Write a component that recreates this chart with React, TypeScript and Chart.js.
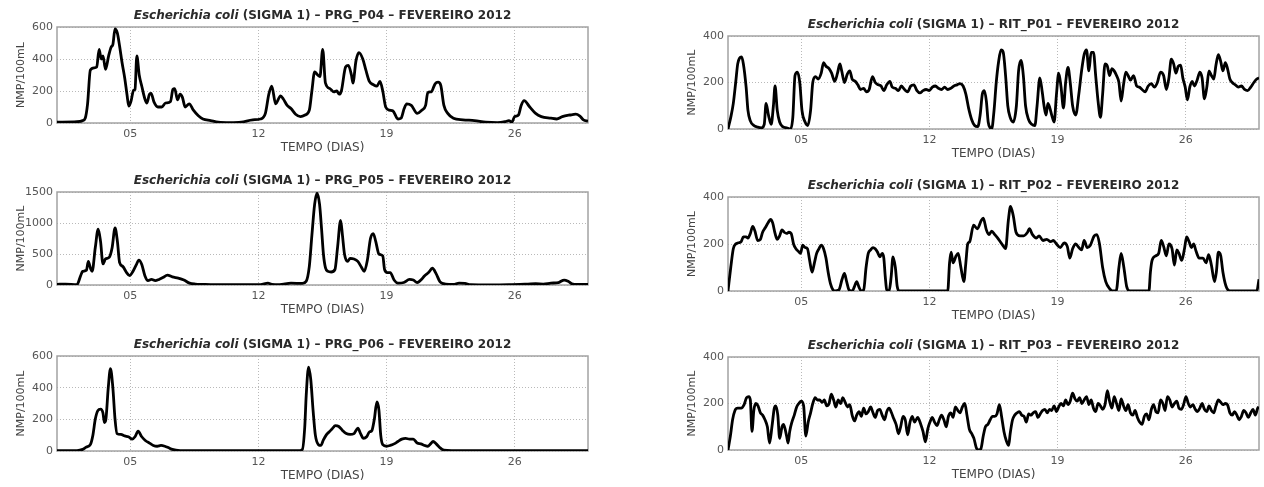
import React, { useEffect, useRef } from 'react';
import { Chart, registerables } from 'chart.js';

Chart.register(...registerables);

// ---------- shared labels ----------
const TICK_DAYS = [5, 12, 19, 26];
const X_MIN = 1;
const X_MAX = 30;
const Y_LABEL = 'NMP/100mL';
const X_LABEL = 'TEMPO (DIAS)';
const SPECIES = 'Escherichia coli';
const TITLE_REST = ' (SIGMA 1) – ';
const MONTH = ' – FEVEREIRO 2012';

// ---------- PRG_P04 ----------
const p04Days = [1.00,2.09,2.40,2.54,2.67,2.82,3.03,3.17,3.30,3.42,3.51,3.65,3.82,3.96,4.05,4.17,4.30,4.42,4.55,4.70,4.82,4.92,5.05,5.18,5.26,5.36,5.49,5.63,5.80,5.91,6.05,6.14,6.30,6.51,6.72,6.93,7.20,7.33,7.43,7.58,7.72,7.85,8.00,8.22,8.45,8.72,8.97,9.39,9.81,10.44,11.06,11.69,12.11,12.38,12.57,12.73,12.94,13.21,13.36,13.57,13.78,14.03,14.30,14.55,14.78,14.92,15.07,15.24,15.36,15.51,15.66,15.91,16.12,16.28,16.41,16.53,16.76,16.91,17.08,17.16,17.33,17.49,17.70,17.87,18.06,18.27,18.47,18.64,18.79,18.95,19.16,19.35,19.62,19.79,19.96,20.10,20.35,20.67,20.92,21.13,21.25,21.44,21.65,21.81,21.96,22.13,22.34,22.65,23.17,23.80,24.42,25.05,25.47,25.68,25.84,25.99,26.20,26.35,26.51,26.82,27.14,27.45,27.97,28.29,28.60,29.02,29.33,29.54,29.75,30.00];
const p04Vals = [5,8,15,30,120,330,345,350,460,400,420,335,420,475,490,588,560,480,380,280,180,105,140,205,210,420,300,230,150,125,180,185,130,100,100,125,135,210,215,145,180,160,100,120,80,45,25,15,5,2,5,20,25,60,180,230,120,170,150,110,90,55,40,50,80,200,320,300,290,460,250,215,195,200,180,200,350,360,300,250,390,440,400,330,260,240,230,260,200,100,80,75,25,30,90,120,110,60,80,110,190,195,245,255,235,110,60,30,20,15,5,2,8,15,5,40,50,110,140,100,60,40,30,25,40,50,55,45,20,12];

// ---------- PRG_P05 ----------
const p05Days = [1.00,1.46,2.09,2.29,2.40,2.61,2.71,2.84,2.92,3.09,3.25,3.38,3.51,3.65,3.86,4.01,4.17,4.30,4.42,4.59,4.80,4.97,5.11,5.32,5.47,5.63,5.80,5.97,6.16,6.37,6.57,6.78,7.03,7.30,7.62,7.93,8.24,8.56,8.97,9.60,10.44,11.48,12.11,12.52,12.73,13.15,13.78,14.40,14.61,14.78,14.92,15.07,15.20,15.34,15.45,15.55,15.66,15.80,15.97,16.18,16.32,16.49,16.59,16.70,16.87,17.01,17.22,17.43,17.64,17.78,17.95,18.12,18.27,18.41,18.58,18.79,18.89,19.04,19.20,19.41,19.62,19.94,20.25,20.46,20.67,20.87,21.08,21.29,21.50,21.71,21.92,22.23,22.65,22.96,23.28,23.59,24.63,25.68,26.72,27.14,27.56,27.97,28.39,28.70,28.91,29.12,29.43,30.00];
const p05Vals = [10,15,5,150,220,240,380,260,220,600,900,700,340,420,450,600,920,700,360,300,200,150,200,320,400,330,150,70,90,70,90,120,160,130,110,80,30,15,10,5,5,5,5,30,10,5,30,25,60,300,800,1300,1480,1300,900,500,280,220,210,250,600,1040,800,500,380,430,420,380,280,220,400,750,830,700,500,470,250,200,200,80,30,40,90,80,40,80,150,200,270,180,50,15,10,30,25,5,2,5,15,20,15,30,40,80,60,20,10,10];

// ---------- PRG_P06 ----------
const p06Days = [1.00,2.09,2.40,2.61,2.82,2.96,3.09,3.23,3.38,3.51,3.59,3.67,3.80,3.92,4.05,4.17,4.28,4.49,4.70,4.90,5.11,5.26,5.43,5.63,5.84,6.05,6.26,6.47,6.68,6.89,7.10,7.30,7.72,8.35,10.44,12.52,14.19,14.40,14.53,14.61,14.74,14.86,14.99,15.11,15.28,15.41,15.55,15.70,15.86,16.03,16.20,16.39,16.59,16.80,17.01,17.22,17.43,17.58,17.74,17.91,18.06,18.20,18.33,18.47,18.58,18.68,18.79,19.00,19.20,19.41,19.62,19.83,20.04,20.25,20.46,20.67,20.87,21.08,21.25,21.40,21.54,21.71,21.92,22.13,22.55,30.00];
const p06Vals = [3,3,10,25,40,100,200,255,265,240,180,200,400,520,400,200,110,105,95,90,75,90,125,90,65,50,35,30,35,30,20,10,3,2,2,2,2,10,150,350,530,450,250,100,40,35,70,100,120,140,160,155,130,110,105,110,145,110,80,90,120,130,200,310,260,100,40,30,35,45,60,75,80,75,75,50,45,35,30,45,60,45,20,5,2,2];

// ---------- RIT_P01 ----------
const r01Days = [1.00,1.15,1.29,1.42,1.53,1.63,1.74,1.84,1.99,2.09,2.22,2.41,2.62,2.83,2.98,3.08,3.21,3.36,3.48,3.57,3.69,3.82,3.99,4.20,4.41,4.54,4.66,4.79,4.92,5.04,5.21,5.36,5.51,5.63,5.78,5.93,6.09,6.22,6.35,6.52,6.66,6.83,6.98,7.11,7.21,7.36,7.51,7.65,7.78,7.95,8.09,8.24,8.41,8.56,8.71,8.89,9.04,9.21,9.36,9.51,9.67,9.84,9.97,10.14,10.31,10.47,10.64,10.81,10.98,11.15,11.32,11.48,11.65,11.82,11.99,12.16,12.33,12.49,12.66,12.83,13.00,13.17,13.34,13.51,13.67,13.84,13.99,14.14,14.31,14.47,14.64,14.77,14.89,15.00,15.11,15.21,15.32,15.40,15.53,15.65,15.78,15.91,16.03,16.16,16.28,16.41,16.58,16.75,16.87,17.00,17.13,17.25,17.42,17.59,17.76,17.88,18.03,18.16,18.26,18.37,18.47,18.58,18.68,18.81,18.94,19.06,19.19,19.32,19.44,19.57,19.69,19.82,19.99,20.16,20.31,20.45,20.58,20.71,20.83,20.96,21.08,21.21,21.34,21.46,21.59,21.72,21.84,21.97,22.09,22.22,22.35,22.47,22.60,22.73,22.85,22.98,23.15,23.32,23.46,23.61,23.78,23.95,24.12,24.28,24.45,24.62,24.79,24.94,25.08,25.21,25.34,25.46,25.59,25.72,25.84,25.97,26.09,26.22,26.35,26.47,26.62,26.77,26.89,27.02,27.15,27.27,27.40,27.53,27.65,27.78,27.91,28.03,28.16,28.28,28.41,28.54,28.71,28.87,29.04,29.21,29.38,29.55,29.72,29.88,30.00];
const r01Vals = [0,50,110,200,280,305,310,280,180,80,35,15,8,5,20,110,60,20,100,185,80,30,10,5,0,50,230,245,200,80,30,15,80,200,225,215,240,285,270,260,240,205,240,280,250,200,235,250,215,205,190,170,175,160,170,225,200,190,185,165,190,205,180,175,165,185,170,160,185,190,165,155,165,170,165,180,185,175,170,180,170,175,185,190,195,185,150,90,40,15,10,60,150,165,120,30,5,0,80,200,290,340,330,230,100,50,30,100,250,295,230,100,40,20,15,100,220,160,100,60,110,90,60,30,150,240,180,90,200,265,200,100,60,150,250,320,340,250,330,330,230,120,50,150,280,270,230,260,250,230,200,120,190,245,230,210,230,185,180,170,160,185,195,180,200,245,230,170,220,300,280,240,270,275,220,180,125,180,205,185,210,245,220,130,180,250,230,215,275,320,290,250,285,260,215,200,190,180,185,170,165,180,200,215,220];

// ---------- RIT_P02 ----------
const r02Days = [1.00,1.15,1.29,1.42,1.57,1.72,1.84,1.99,2.09,2.22,2.35,2.47,2.62,2.77,2.89,3.04,3.19,3.32,3.44,3.57,3.69,3.82,3.95,4.07,4.20,4.33,4.45,4.58,4.71,4.83,4.96,5.08,5.21,5.34,5.46,5.59,5.72,5.84,5.97,6.09,6.22,6.35,6.47,6.60,6.73,6.85,7.06,7.23,7.36,7.48,7.61,7.78,7.91,8.03,8.16,8.28,8.41,8.54,8.66,8.79,8.92,9.04,9.17,9.29,9.42,9.51,9.59,9.67,9.80,9.91,10.01,10.14,10.24,10.35,13.00,13.10,13.19,13.29,13.46,13.57,13.72,13.88,13.99,14.09,14.20,14.41,14.62,14.83,14.94,15.11,15.25,15.40,15.57,15.78,16.05,16.16,16.31,16.43,16.58,16.73,16.94,17.15,17.36,17.46,17.63,17.84,17.99,18.20,18.41,18.62,18.77,18.94,19.15,19.36,19.53,19.67,19.82,19.99,20.16,20.31,20.45,20.62,20.79,21.00,21.15,21.29,21.46,21.63,21.84,21.99,22.20,22.35,22.47,22.62,22.77,22.94,23.99,24.07,24.16,24.37,24.52,24.66,24.79,24.94,25.08,25.25,25.38,25.51,25.63,25.78,25.93,26.05,26.18,26.31,26.43,26.56,26.73,26.94,27.11,27.25,27.40,27.57,27.67,27.78,27.91,28.03,28.20,28.41,29.88,30.00];
const r02Vals = [0,100,180,200,205,210,230,230,225,245,275,255,215,220,250,270,290,305,290,245,220,235,260,250,245,250,245,200,180,170,160,195,185,180,130,80,120,160,180,195,180,140,80,30,5,0,5,50,75,40,5,0,20,40,15,0,5,100,160,175,185,180,165,145,160,140,60,5,0,60,145,100,20,0,0,120,165,120,150,160,100,40,120,200,210,280,265,300,310,260,240,255,240,220,190,180,300,360,320,250,235,235,250,265,240,225,235,215,220,210,215,200,185,205,190,140,180,200,185,175,215,185,195,235,240,200,100,40,10,0,0,100,160,100,20,0,0,80,130,150,160,215,190,150,200,180,110,175,160,130,180,230,210,185,200,170,140,140,120,155,110,40,80,165,150,80,20,0,0,50];

// ---------- RIT_P03 ----------
const r03Days = [1.00,1.13,1.25,1.38,1.53,1.72,1.88,2.01,2.14,2.22,2.31,2.41,2.52,2.64,2.77,2.89,3.02,3.15,3.27,3.40,3.53,3.61,3.72,3.82,3.95,4.03,4.12,4.20,4.28,4.37,4.49,4.62,4.75,4.87,5.00,5.13,5.25,5.38,5.51,5.63,5.76,5.88,6.01,6.14,6.26,6.39,6.52,6.64,6.77,6.89,7.02,7.15,7.27,7.40,7.53,7.65,7.78,7.91,8.03,8.16,8.28,8.41,8.54,8.66,8.79,8.92,9.04,9.17,9.29,9.42,9.55,9.67,9.80,9.93,10.05,10.18,10.31,10.43,10.56,10.68,10.81,10.94,11.06,11.19,11.36,11.53,11.65,11.78,11.91,12.03,12.16,12.28,12.41,12.54,12.66,12.79,12.92,13.04,13.17,13.29,13.42,13.55,13.67,13.80,13.93,14.05,14.18,14.31,14.43,14.56,14.68,14.81,14.94,15.06,15.19,15.32,15.44,15.57,15.69,15.82,15.95,16.07,16.20,16.33,16.41,16.54,16.66,16.79,16.92,17.04,17.17,17.29,17.42,17.55,17.67,17.80,17.93,18.05,18.18,18.31,18.43,18.56,18.68,18.81,18.94,19.06,19.19,19.32,19.44,19.57,19.69,19.82,19.95,20.07,20.20,20.33,20.45,20.58,20.71,20.83,20.96,21.08,21.21,21.34,21.46,21.59,21.72,21.84,21.97,22.09,22.22,22.35,22.47,22.60,22.73,22.85,22.98,23.11,23.23,23.36,23.48,23.61,23.74,23.86,23.99,24.12,24.24,24.37,24.49,24.62,24.75,24.87,25.00,25.13,25.25,25.38,25.51,25.63,25.76,25.88,26.01,26.14,26.26,26.39,26.52,26.64,26.77,26.89,27.02,27.15,27.27,27.40,27.53,27.65,27.78,27.91,28.03,28.16,28.28,28.41,28.54,28.66,28.79,28.92,29.04,29.17,29.29,29.42,29.55,29.67,29.80,29.93,30.00];
const r03Vals = [0,60,130,170,180,180,195,225,230,215,80,170,200,190,160,150,130,100,30,100,180,190,150,50,100,110,90,60,30,80,120,150,185,200,210,190,60,120,160,200,225,215,215,205,215,190,200,240,215,185,215,200,225,205,185,195,150,125,150,165,145,180,155,165,185,160,140,170,175,150,130,165,180,160,135,110,70,100,145,130,65,120,145,120,140,110,80,35,90,120,140,120,105,130,150,130,100,145,160,140,185,170,160,185,200,150,90,70,50,10,0,5,60,100,110,130,145,145,155,195,140,80,40,20,70,130,150,160,165,150,145,120,155,150,160,165,140,155,170,175,160,175,170,190,165,185,200,190,215,195,210,245,220,210,225,200,215,230,195,215,180,165,200,190,175,195,255,210,180,230,200,170,220,190,170,195,160,150,170,140,120,110,145,155,130,175,195,165,160,215,200,170,230,215,185,200,210,180,175,195,230,200,185,195,175,165,180,200,175,165,190,170,160,190,215,205,195,200,195,160,150,165,150,130,145,170,160,140,160,175,150,180,185];

// ---------- layout (page pixels of each plot box) ----------
const PANELS = [
  { station: 'PRG_P04', days: p04Days, vals: p04Vals, yMax: 600, yStep: 200, box: { l: 57, r: 588, t: 27, b: 123 } },
  { station: 'PRG_P05', days: p05Days, vals: p05Vals, yMax: 1500, yStep: 500, box: { l: 57, r: 588, t: 192, b: 285 } },
  { station: 'PRG_P06', days: p06Days, vals: p06Vals, yMax: 600, yStep: 200, box: { l: 57, r: 588, t: 356, b: 451 } },
  { station: 'RIT_P01', days: r01Days, vals: r01Vals, yMax: 400, yStep: 200, box: { l: 728, r: 1259, t: 36, b: 129 } },
  { station: 'RIT_P02', days: r02Days, vals: r02Vals, yMax: 400, yStep: 200, box: { l: 728, r: 1259, t: 197, b: 291 } },
  { station: 'RIT_P03', days: r03Days, vals: r03Vals, yMax: 400, yStep: 200, box: { l: 728, r: 1259, t: 357, b: 450 } },
];

const FAMILY = '"DejaVu Sans", "Liberation Sans", Arial, sans-serif';
const AXIS_W = 57;
const TOP_PAD = 26;
const X_AXIS_H = 32;
const RIGHT_PAD = 4;

const boxPlugin = {
  id: 'plotBox',
  beforeDatasetsDraw(chart: any) {
    const { ctx, chartArea } = chart;
    const { left, top, right, bottom } = chartArea;
    ctx.save();
    ctx.strokeStyle = '#a3a3a3';
    ctx.lineWidth = 1.5;
    ctx.strokeRect(left, top, right - left, bottom - top);
    ctx.restore();
  },
};

const titlePlugin = {
  id: 'mixedTitle',
  afterDraw(chart: any, _args: any, opts: any) {
    const { ctx, chartArea } = chart;
    const fi = `italic bold 12px ${FAMILY}`;
    const fb = `bold 12px ${FAMILY}`;
    ctx.save();
    ctx.font = fi;
    const wa = ctx.measureText(opts.italic).width;
    ctx.font = fb;
    const wb = ctx.measureText(opts.rest).width;
    const cx = (chartArea.left + chartArea.right) / 2;
    const x = cx - (wa + wb) / 2;
    const y = chartArea.top - 11;
    ctx.textBaseline = 'middle';
    ctx.textAlign = 'left';
    ctx.fillStyle = '#2a2a2a';
    ctx.font = fi;
    ctx.fillText(opts.italic, x, y);
    ctx.font = fb;
    ctx.fillText(opts.rest, x + wa, y);
    ctx.restore();
  },
};

function Panel({ p }: { p: any }) {
  const ref = useRef<HTMLCanvasElement | null>(null);
  const left = p.box.l - AXIS_W;
  const top = p.box.t - TOP_PAD;
  const width = p.box.r + RIGHT_PAD - left;
  const height = p.box.b - p.box.t + TOP_PAD + X_AXIS_H;

  useEffect(() => {
    if (!ref.current) return;
    const gridColor = '#b9b9b9';
    const chart = new Chart(ref.current, {
      type: 'line',
      data: {
        datasets: [
          {
            data: p.days.map((d: number, i: number) => ({ x: d, y: p.vals[i] })),
            borderColor: '#000000',
            borderWidth: 2.8,
            pointRadius: 0,
            cubicInterpolationMode: 'monotone',
            fill: false,
          },
        ],
      },
      options: {
        responsive: false,
        animation: false,
        devicePixelRatio: 1,
        layout: { padding: { top: TOP_PAD, right: RIGHT_PAD, left: 0, bottom: 0 } },
        plugins: {
          legend: { display: false },
          tooltip: { enabled: false },
          title: { display: false },
          mixedTitle: { italic: SPECIES, rest: TITLE_REST + p.station + MONTH },
        } as any,
        scales: {
          x: {
            type: 'linear',
            min: X_MIN,
            max: X_MAX,
            afterBuildTicks: (s: any) => {
              s.ticks = TICK_DAYS.map((v) => ({ value: v }));
            },
            afterFit: (s: any) => {
              s.height = X_AXIS_H;
            },
            ticks: {
              callback: (v: any) => (Number(v) < 10 ? '0' : '') + v,
              font: { family: FAMILY, size: 11 },
              color: '#555555',
              padding: 5,
              maxRotation: 0,
              autoSkip: false,
            },
            grid: { color: gridColor, drawTicks: false, lineWidth: 1 },
            border: { display: false, dash: [1, 2] },
            title: {
              display: true,
              text: X_LABEL,
              font: { family: FAMILY, size: 12 },
              color: '#444444',
              padding: 0,
            },
          },
          y: {
            min: 0,
            max: p.yMax,
            afterFit: (s: any) => {
              s.width = AXIS_W;
            },
            ticks: {
              stepSize: p.yStep,
              callback: (v: any) => String(v),
              font: { family: FAMILY, size: 11 },
              color: '#555555',
              padding: 4,
            },
            grid: { color: gridColor, drawTicks: false, lineWidth: 1 },
            border: { display: false, dash: [1, 2] },
            title: {
              display: true,
              text: Y_LABEL,
              font: { family: FAMILY, size: 11 },
              color: '#444444',
              padding: { top: 15, bottom: 0 },
            },
          },
        },
      } as any,
      plugins: [boxPlugin, titlePlugin],
    });
    return () => chart.destroy();
  }, []);

  return (
    <canvas
      ref={ref}
      width={width}
      height={height}
      style={{ position: 'absolute', left, top, width, height }}
    />
  );
}

export default function App() {
  return (
    <div style={{ position: 'absolute', left: 0, top: 0, width: 1264, height: 487, background: '#ffffff', overflow: 'hidden' }}>
      {PANELS.map((p) => (
        <Panel key={p.station} p={p} />
      ))}
    </div>
  );
}
